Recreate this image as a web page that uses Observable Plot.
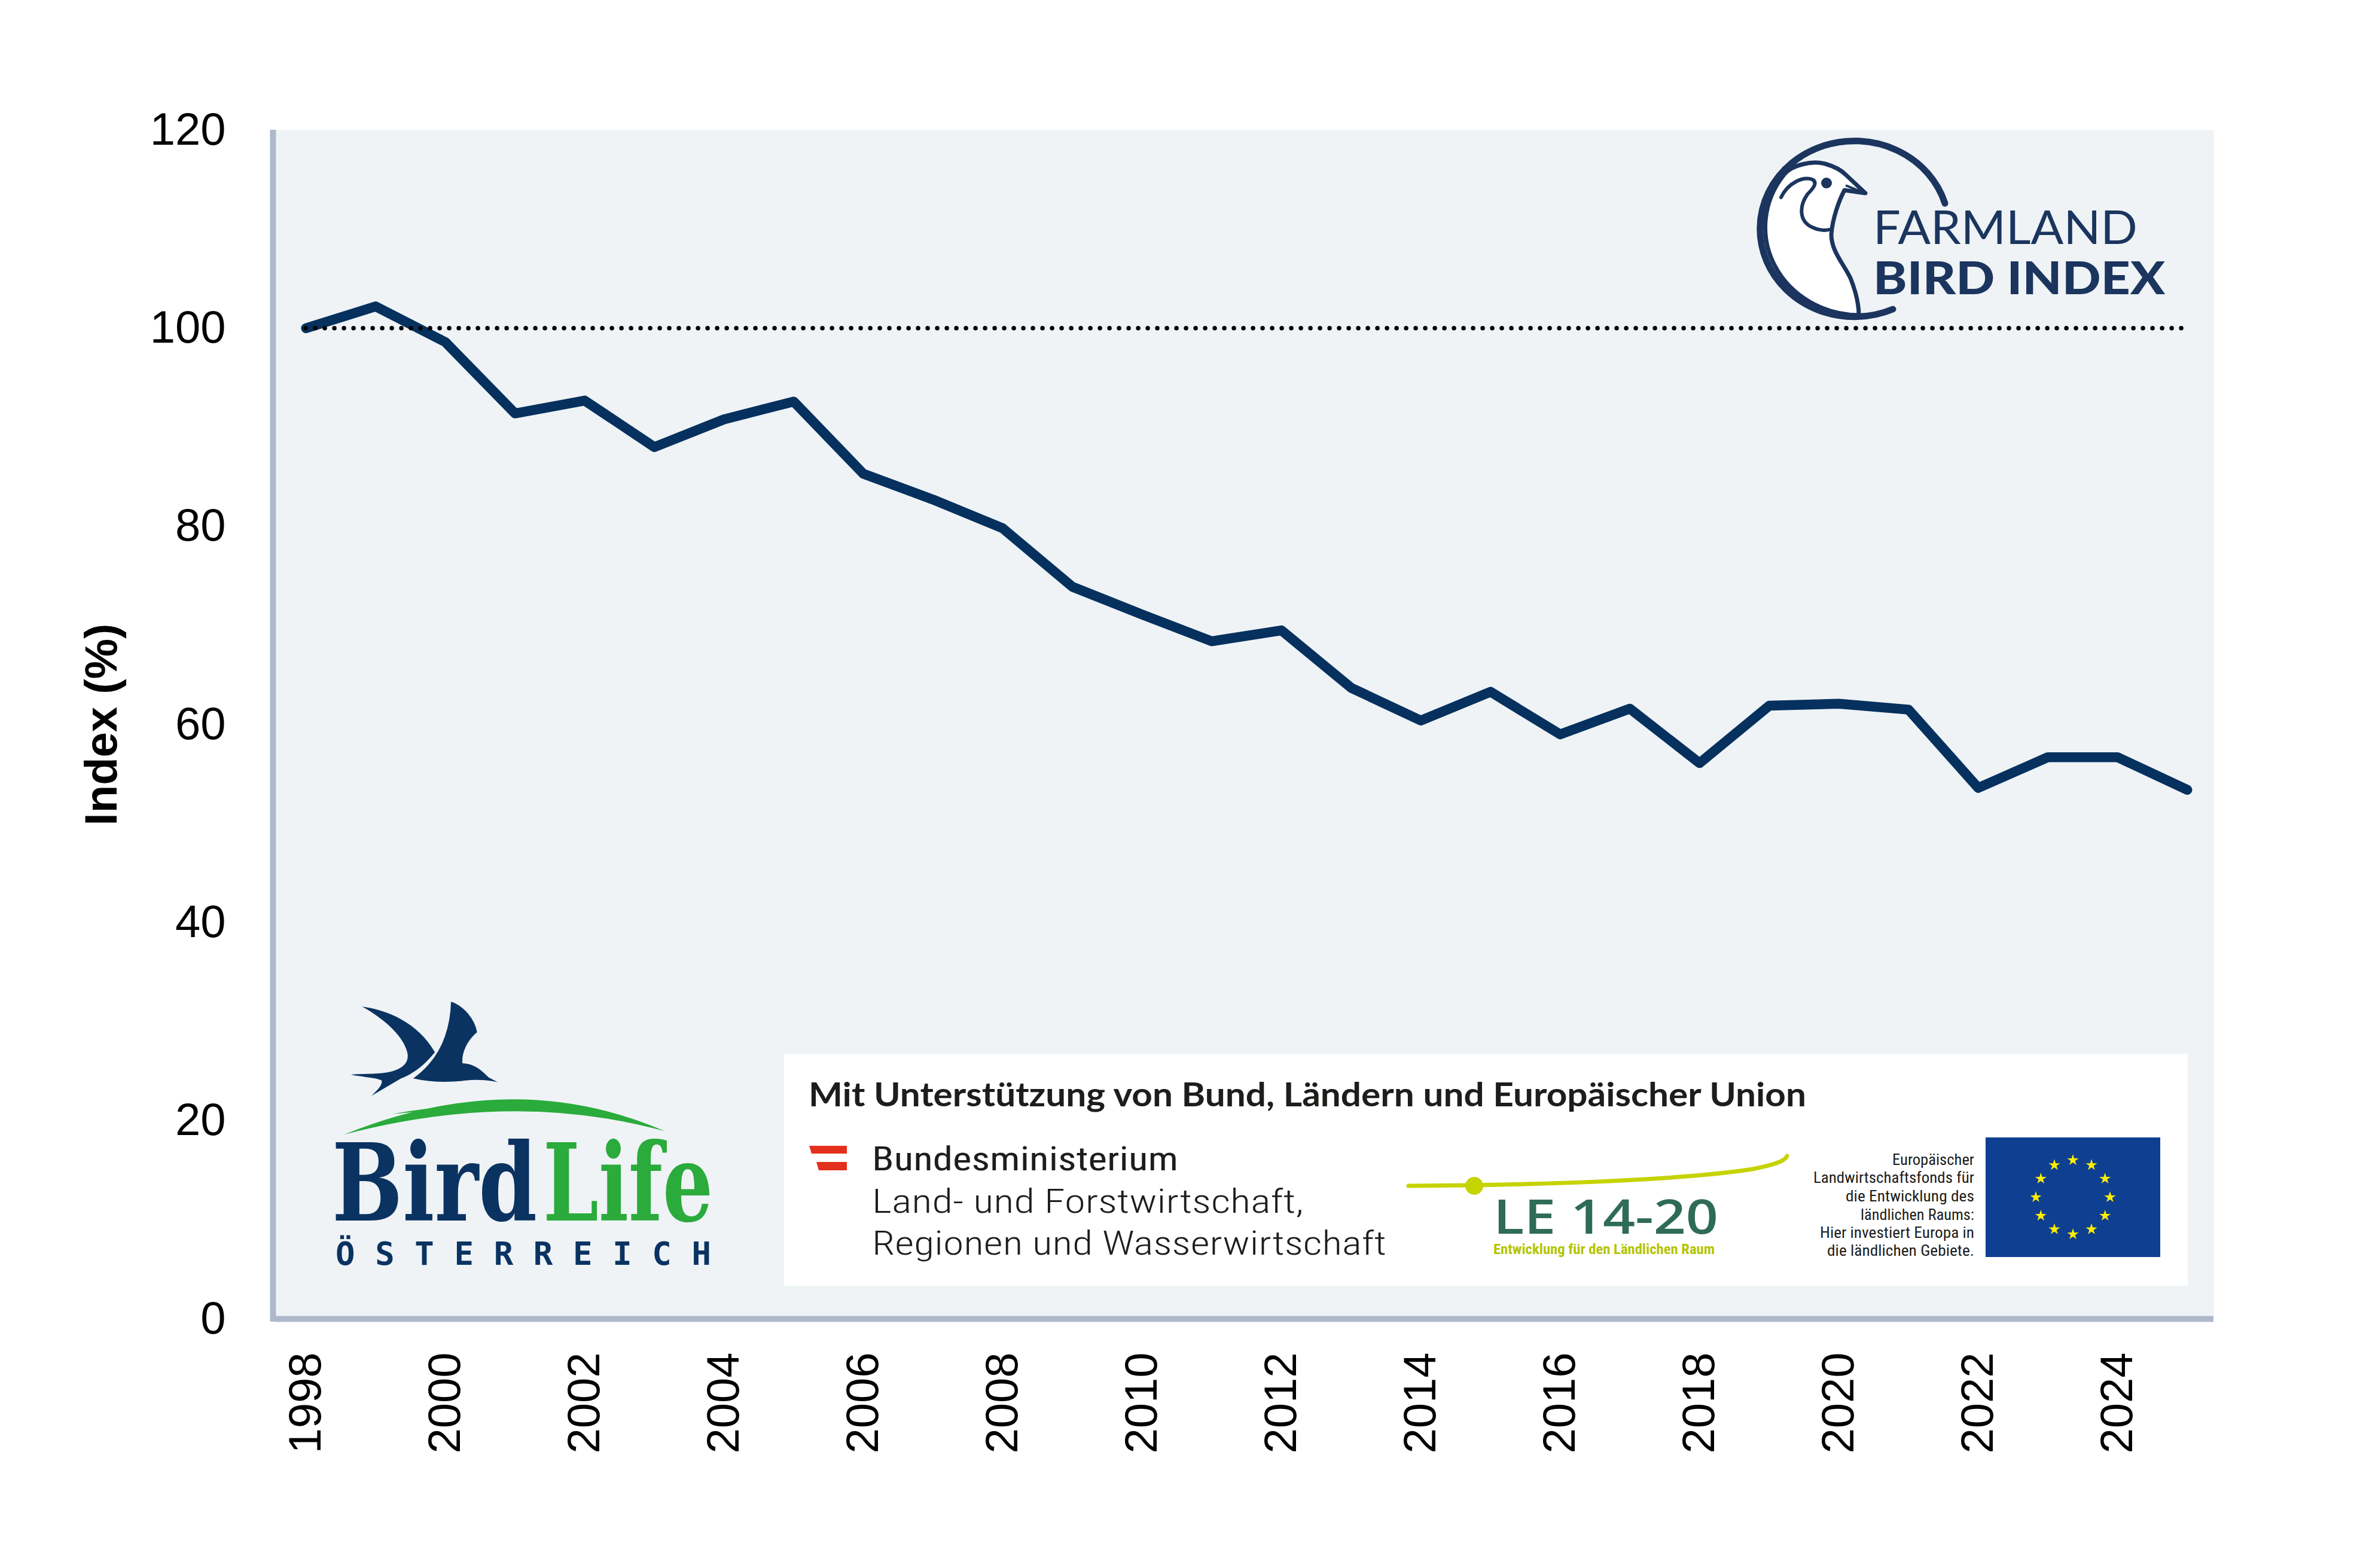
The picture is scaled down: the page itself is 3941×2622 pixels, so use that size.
<!DOCTYPE html>
<html><head><meta charset="utf-8">
<script src="https://cdn.jsdelivr.net/npm/d3@7"></script>
<script src="https://cdn.jsdelivr.net/npm/@observablehq/plot@0.6"></script>
<style>html,body{margin:0;padding:0;background:#fff;overflow:hidden}</style>
</head><body><div id="chart"></div>
<script>
// ---------- data ----------
const years = [1998,1999,2000,2001,2002,2003,2004,2005,2006,2007,2008,2009,2010,2011,2012,2013,2014,2015,2016,2017,2018,2019,2020,2021,2022,2023,2024,2025];
const indexValues = [100,102.2,98.6,91.4,92.7,88.0,90.8,92.6,85.3,82.7,79.8,73.9,71.1,68.4,69.5,63.7,60.4,63.3,59.0,61.6,56.1,61.9,62.1,61.5,53.6,56.7,56.7,53.4];
const xTickValues = [1998,2000,2002,2004,2006,2008,2010,2012,2014,2016,2018,2020,2022,2024];
const yTickValues = [0,20,40,60,80,100,120];
const baselineValue = 100;
const yLabel = "Index (%)";

const data = years.map((year, i) => ({year, value: indexValues[i]}));
const xDomain = [1997.57, 2025.38];

const chart = Plot.plot({
  width: 3941, height: 2622,
  marginLeft: 461, marginRight: 240, marginTop: 217, marginBottom: 417,
  style: {fontFamily: "'Liberation Sans', Arial, Helvetica, sans-serif", fontSize: "76px", color: "#000", background: "#fff", overflow: "visible"},
  x: {domain: xDomain},
  y: {domain: [0, 120]},
  marks: [
    Plot.frame({fill: "#eff3f6", stroke: "none"}),
    Plot.ruleY([0], {stroke: "#adb9cb", strokeWidth: 10}),
    Plot.ruleX([xDomain[0]], {y1: -0.3, y2: 120, stroke: "#adb9cb", strokeWidth: 10, dx: -5}),
    Plot.axisY({ticks: yTickValues, tickSize: 0, tickPadding: 84, label: null, fontSize: 76}),
    Plot.axisX({ticks: xTickValues, tickFormat: d => String(d), tickRotate: -90, tickSize: 0, tickPadding: 56, label: null, fontSize: 76}),
    Plot.text([yLabel], {text: d => d, frameAnchor: "left", textAnchor: "middle", lineAnchor: "middle", dx: -291, rotate: -90, fontWeight: "bold", fontSize: 76}),
    Plot.line(data, {x: "year", y: "value", stroke: "#06315e", strokeWidth: 16.5, strokeLinejoin: "round", strokeLinecap: "round"}),
    Plot.ruleY([baselineValue], {x1: years[0], x2: years[years.length - 1], stroke: "#000", strokeWidth: 7.5, strokeDasharray: "0,16", strokeLinecap: "round"})
  ]
});
document.getElementById("chart").appendChild(chart);

// ---------- decorations (logos) ----------
const svg = d3.select(chart);
const deco = svg.append("g").attr("text-anchor", "start");
function txt(g, s, x, y, o) {
  const t = g.append("text").attr("x", x).attr("y", y).attr("text-anchor", "start").text(s);
  for (const k in o) t.attr(k, o[k]);
  return t;
}

// Farmland Bird Index logo
const navyF = "#1b355e";
const fb = deco.append("g");
fb.append("path")
  .attr("d", "M 2983 292 C 2995 276, 3030 268, 3052 274 C 3066 278, 3078 284, 3086 292 L 3119 323 L 3084 318 C 3075 335, 3064 365, 3062 392 C 3062 420, 3082 440, 3094 465 C 3104 490, 3108 510, 3108 527 A 158 147 0 0 1 2983 292 Z")
  .attr("fill", "#fff").attr("stroke", navyF).attr("stroke-width", 7).attr("stroke-linejoin", "round");
fb.append("path")
  .attr("d", "M 3252 340 A 158 147 0 1 0 3165 517")
  .attr("fill", "none").attr("stroke", navyF).attr("stroke-width", 11).attr("stroke-linecap", "round");
fb.append("path")
  .attr("d", "M 2978 330 C 2990 305, 3015 295, 3030 300 C 3040 305, 3032 315, 3022 325 C 3008 345, 3008 370, 3030 380 C 3040 385, 3052 386, 3058 384")
  .attr("fill", "none").attr("stroke", navyF).attr("stroke-width", 6).attr("stroke-linecap", "round");
fb.append("path").attr("d", "M 3086 310 L 3116 322").attr("stroke", navyF).attr("stroke-width", 4);
fb.append("circle").attr("cx", 3054).attr("cy", 306).attr("r", 9).attr("fill", navyF);
txt(fb, "FARMLAND", 3132, 408, {"font-family": "Lato, 'Open Sans', sans-serif", "font-size": 77, "font-weight": 400, fill: navyF, textLength: 442, lengthAdjust: "spacingAndGlyphs"});
txt(fb, "BIRD INDEX", 3132, 492, {"font-family": "Lato, 'Open Sans', sans-serif", "font-size": 77, "font-weight": 900, fill: navyF, textLength: 488, lengthAdjust: "spacingAndGlyphs"});

// BirdLife Österreich logo
const navyB = "#0a3361", greenB = "#2aab3b";
const bl = deco.append("g");
const blm = bl.append("g").attr("transform", "translate(400,1600) scale(0.574)");
blm.append("path").attr("fill", navyB)
  .attr("d", "M 358,145 C 430,155 520,190 570,278 C 545,310 510,340 470,355 L 385,405 C 400,390 418,375 415,360 C 400,352 360,350 325,343 C 370,340 410,342 440,335 C 480,325 495,305 490,280 C 480,235 430,185 358,145 Z");
blm.append("path").attr("fill", navyB).attr("stroke", "#eff3f6").attr("stroke-width", 4)
  .attr("d", "M 502,355 C 560,315 612,250 615,128 C 655,140 688,180 695,220 C 665,245 650,280 652,308 C 690,310 712,335 728,350 L 767,370 C 730,362 700,358 660,362 C 600,370 545,365 502,355 Z");
blm.append("path").attr("fill", greenB).attr("d", "M 305,518 Q 800,317 1240,508 Q 800,387 305,518 Z");
blm.append("path").attr("fill", greenB).attr("d", "M 445,458 Q 600,428 748,436 Q 600,442 445,458 Z");
txt(bl, "Bird", 555, 2041, {"font-family": "'DejaVu Serif', serif", "font-size": 180, "font-weight": "bold", fill: navyB, textLength: 343, lengthAdjust: "spacingAndGlyphs"});
txt(bl, "Life", 908, 2041, {"font-family": "'DejaVu Serif', serif", "font-size": 180, "font-weight": "bold", fill: greenB, textLength: 284, lengthAdjust: "spacingAndGlyphs"});
txt(bl, "ÖSTERREICH", 561, 2115, {"font-family": "'DejaVu Sans Mono', monospace", "font-size": 54, "font-weight": "bold", fill: navyB, textLength: 628, lengthAdjust: "spacing"});

// Sponsor box
const sp = deco.append("g");
sp.append("rect").attr("x", 1311).attr("y", 1762).attr("width", 2347).attr("height", 388).attr("fill", "#fff");
const dark = "#1d1d1b";
txt(sp, "Mit Unterstützung von Bund, Ländern und Europäischer Union", 1352, 1850, {"font-family": "Lato, sans-serif", "font-size": 56, "font-weight": 700, fill: dark, textLength: 1668, lengthAdjust: "spacingAndGlyphs"});
sp.append("polygon").attr("points", "1353,1916 1416,1916 1416,1929 1357,1929").attr("fill", "#e3301c");
sp.append("polygon").attr("points", "1365,1943 1416,1943 1416,1957 1369,1957").attr("fill", "#e3301c");
const narrow = "'Liberation Sans Narrow', 'Roboto Condensed', 'Liberation Sans', sans-serif";
txt(sp, "Bundesministerium", 1458, 1957, {"font-family": narrow, "font-size": 56, "font-weight": 400, fill: dark, textLength: 512, lengthAdjust: "spacingAndGlyphs"});
txt(sp, "Land- und Forstwirtschaft,", 1458, 2028, {"font-family": narrow, "font-size": 56, "font-weight": 300, fill: dark, textLength: 722, lengthAdjust: "spacingAndGlyphs"});
txt(sp, "Regionen und Wasserwirtschaft", 1458, 2098, {"font-family": narrow, "font-size": 56, "font-weight": 300, fill: dark, textLength: 860, lengthAdjust: "spacingAndGlyphs"});
// LE 14-20
const lime = "#c5d300";
sp.append("path").attr("d", "M 2355 1983 C 2550 1982, 2800 1975, 2930 1955 C 2965 1948, 2985 1942, 2988 1933")
  .attr("fill", "none").attr("stroke", lime).attr("stroke-width", 7).attr("stroke-linecap", "round");
sp.append("circle").attr("cx", 2465).attr("cy", 1983).attr("r", 15).attr("fill", lime);
txt(sp, "LE 14-20", 2497, 2063, {"font-family": "'Open Sans', sans-serif", "font-size": 80, "font-weight": 600, fill: "#2f6b59", textLength: 376, lengthAdjust: "spacingAndGlyphs"});
txt(sp, "Entwicklung für den Ländlichen Raum", 2497, 2097, {"font-family": narrow, "font-size": 24, "font-weight": 700, fill: "#b3c500", textLength: 370, lengthAdjust: "spacingAndGlyphs"});
// EU text
const euLines = ["Europäischer", "Landwirtschaftsfonds für", "die Entwicklung des", "ländlichen Raums:", "Hier investiert Europa in", "die ländlichen Gebiete."];
const euBase = [1948, 1978, 2009, 2040, 2070, 2100];
const euLen = [137, 269, 215, 190, 258, 246];
euLines.forEach((s, i) => txt(sp, s, 3301, euBase[i], {"font-family": narrow, "font-size": 25, fill: dark, "text-anchor": "end", textLength: euLen[i], lengthAdjust: "spacingAndGlyphs"}));
// EU flag
sp.append("rect").attr("x", 3320).attr("y", 1902).attr("width", 292).attr("height", 200).attr("fill", "#0f3f91");
function starPath(cx, cy, R) {
  const r = R * 0.382; let d = "";
  for (let k = 0; k < 10; k++) {
    const a = -Math.PI / 2 + k * Math.PI / 5, rr = k % 2 ? r : R;
    d += (k ? "L" : "M") + (cx + rr * Math.cos(a)).toFixed(1) + "," + (cy + rr * Math.sin(a)).toFixed(1);
  }
  return d + "Z";
}
for (let k = 0; k < 12; k++) {
  const a = k * Math.PI / 6;
  sp.append("path").attr("d", starPath(3466 + 62 * Math.sin(a), 2002 - 62 * Math.cos(a), 10)).attr("fill", "#ffed00");
}
</script>
</body></html>
